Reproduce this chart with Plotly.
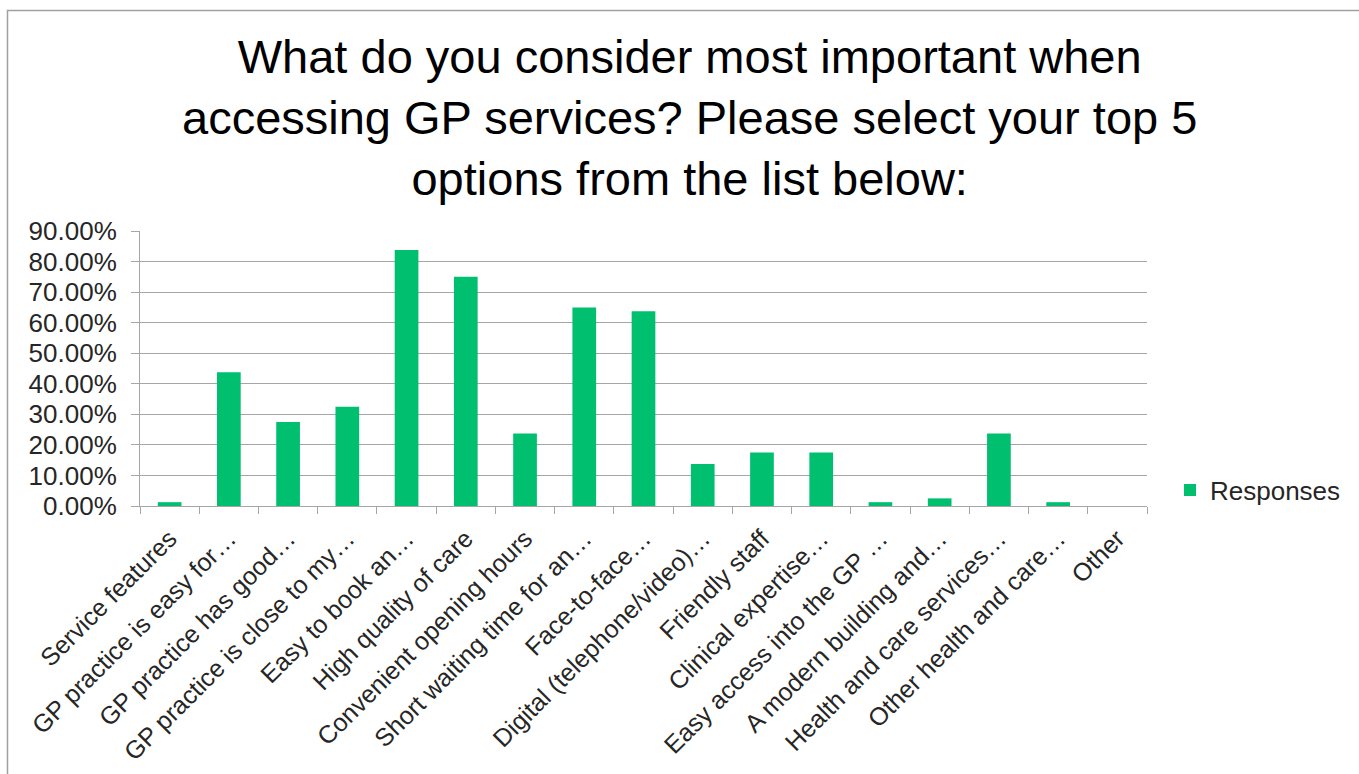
import plotly.graph_objects as go

# Survey options (labels truncated as exported) and share of respondents choosing each
categories = [
    "Service features",
    "GP practice is easy for…",
    "GP practice has good…",
    "GP practice is close to my…",
    "Easy to book an…",
    "High quality of care",
    "Convenient opening hours",
    "Short waiting time for an…",
    "Face-to-face…",
    "Digital (telephone/video)…",
    "Friendly staff",
    "Clinical expertise…",
    "Easy access into the GP …",
    "A modern building and…",
    "Health and care services…",
    "Other health and care…",
    "Other",
]
responses = [
    0.0125, 0.4375, 0.275, 0.325, 0.8375, 0.75, 0.2375, 0.65, 0.6375,
    0.1375, 0.175, 0.175, 0.0125, 0.025, 0.2375, 0.0125, 0.0,
]
y_ticks = [i / 10 for i in range(10)]
title_text = (
    "What do you consider most important when<br>"
    "accessing GP services? Please select your top 5<br>"
    "options from the list below:"
)

W, H = 1359, 774
L, R, T, B = 140, 212, 231, 268
pw, ph = W - L - R, H - T - B
FONT = "Liberation Sans, Arial, sans-serif"
GRID = "#A6A6A6"
GREEN = "#00BF6F"
TEXT = "#262626"


def px_x(x):
    return (x - L) / pw


def px_y(y):
    return (H - B - y) / ph


fig = go.Figure(
    go.Bar(
        x=categories,
        y=responses,
        name="Responses",
        marker=dict(color=GREEN, line=dict(width=0)),
        hoverinfo="skip",
    )
)

fig.update_layout(
    width=W,
    height=H,
    margin=dict(l=L, r=R, t=T, b=B, autoexpand=False),
    paper_bgcolor="white",
    plot_bgcolor="white",
    bargap=0.6,
    font=dict(family=FONT, size=25, color=TEXT),
    showlegend=True,
    legend=dict(
        x=px_x(1170),
        y=px_y(490),
        xanchor="left",
        yanchor="middle",
        font=dict(family=FONT, size=26, color=TEXT),
        bgcolor="rgba(0,0,0,0)",
        itemwidth=30,
    ),
    annotations=[
        dict(
            text=title_text,
            xref="paper",
            yref="paper",
            x=px_x(689),
            y=px_y(117),
            xanchor="center",
            yanchor="middle",
            align="center",
            showarrow=False,
            font=dict(family=FONT, size=47, color="#000000"),
        )
    ],
    shapes=[
        dict(
            type="rect",
            xref="paper",
            yref="paper",
            x0=px_x(7.5),
            x1=px_x(1400),
            y0=px_y(800),
            y1=px_y(10.5),
            line=dict(color="#A0A0A0", width=1.5),
            fillcolor="rgba(0,0,0,0)",
            layer="below",
        )
    ],
)

fig.update_xaxes(
    type="category",
    automargin=False,
    tickangle=-45,
    tickson="boundaries",
    ticks="outside",
    ticklen=7,
    tickcolor=GRID,
    ticklabelstandoff=7,
    showline=True,
    linecolor=GRID,
    linewidth=1,
    showgrid=False,
    tickfont=dict(family=FONT, size=25, color=TEXT),
)

fig.update_yaxes(
    automargin=False,
    range=[0, 0.9],
    tickvals=y_ticks,
    tickformat=".2%",
    ticks="outside",
    ticklen=8,
    tickcolor=GRID,
    ticklabelstandoff=9,
    showline=True,
    linecolor=GRID,
    linewidth=1,
    showgrid=True,
    gridcolor=GRID,
    gridwidth=1,
    zeroline=False,
    tickfont=dict(family=FONT, size=26, color=TEXT),
)

fig.write_html("out.html")
